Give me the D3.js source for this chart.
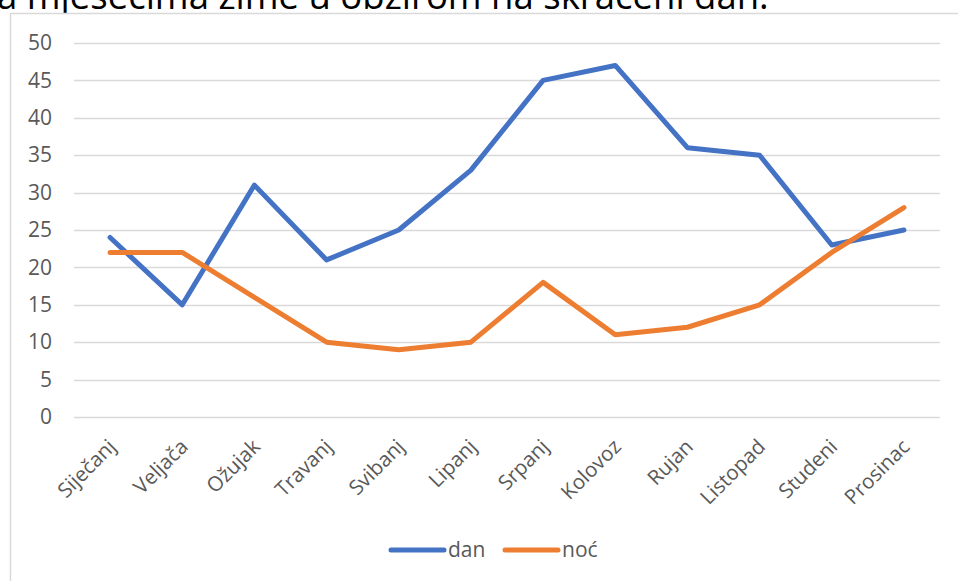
<!DOCTYPE html>
<html><head><meta charset="utf-8">
<script src="https://cdn.jsdelivr.net/npm/d3@7"></script>
<style>body{margin:0;background:#fff;} svg{display:block;font-family:"Open Sans",sans-serif;}</style>
</head><body>
<svg id="c" width="958" height="581"></svg>
<script>
const categories = ["Siječanj","Veljača","Ožujak","Travanj","Svibanj","Lipanj","Srpanj","Kolovoz","Rujan","Listopad","Studeni","Prosinac"];
const dan = [24,15,31,21,25,33,45,47,36,35,23,25];
const noc = [22,22,16,10,9,10,18,11,12,15,22,28];
const yTicks = [0,5,10,15,20,25,30,35,40,45,50];
const seriesNames = ["dan","noć"];
const colors = ["#4472C4","#ED7D31"];
const titleText = "a mjesecima zime u obzirom na skraćeni dan.";

const svg = d3.select("#c");
svg.append("text").attr("x",-3).attr("y",9).attr("font-size",36.5).attr("fill","#000").text(titleText);
// chart frame
svg.append("rect").attr("x",10).attr("y",14).attr("width",960).attr("height",600).attr("fill","#fff");
svg.append("path").attr("d","M10.5,590 V13.5 H970").attr("fill","none").attr("stroke","#d9d9d9").attr("stroke-width",1.5);

const x = d3.scaleBand().domain(categories).range([74,940]);
const y = d3.scaleLinear().domain([0,50]).range([417,43]);

const grid = svg.append("g");
grid.selectAll("line").data(yTicks).join("line")
  .attr("x1",74).attr("x2",940).attr("y1",d=>Math.round(y(d))+0.5).attr("y2",d=>Math.round(y(d))+0.5)
  .attr("stroke","#d9d9d9").attr("stroke-width",1.3);

const yAxis = svg.append("g").attr("transform","translate(62,0)")
  .call(d3.axisLeft(y).tickValues(yTicks).tickSize(0).tickPadding(10));
yAxis.select(".domain").remove();
yAxis.selectAll("text").attr("font-size",21).attr("fill","#595959").attr("font-family","Open Sans");

const xAxis = svg.append("g").attr("transform","translate(0,417)")
  .call(d3.axisBottom(x).tickSize(0));
xAxis.select(".domain").remove();
xAxis.selectAll("text").attr("font-size",20.5).attr("fill","#595959").attr("font-family","Open Sans")
  .attr("text-anchor","end").attr("dy",0).attr("y",0)
  .attr("transform",`translate(7,31) rotate(-45)`)
  .attr("x",0);

const line = d3.line().x((d,i)=>x(categories[i])+x.bandwidth()/2).y(d=>y(d));
[dan,noc].forEach((s,k)=>{
  svg.append("path").datum(s).attr("d",line).attr("fill","none")
    .attr("stroke",colors[k]).attr("stroke-width",5).attr("stroke-linecap","round").attr("stroke-linejoin","round");
});

const legend = svg.append("g");
const lx = [391,505];
seriesNames.forEach((n,k)=>{
  legend.append("line").attr("x1",lx[k]).attr("x2",lx[k]+53).attr("y1",550).attr("y2",550)
    .attr("stroke",colors[k]).attr("stroke-width",5).attr("stroke-linecap","round");
  legend.append("text").attr("x",lx[k]+57).attr("y",557).attr("font-size",21).attr("fill","#595959").text(n);
});
</script>
</body></html>
